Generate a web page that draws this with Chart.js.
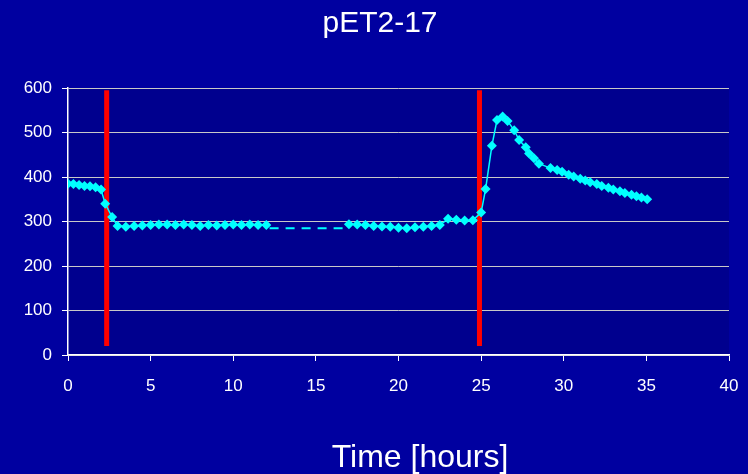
<!DOCTYPE html>
<html>
<head>
<meta charset="utf-8">
<script src="https://cdn.jsdelivr.net/npm/chart.js@4"></script>
<style>
html,body{margin:0;padding:0;background:#0000A0;}
#wrap{width:748px;height:474px;}
</style>
</head>
<body>
<div id="wrap"><canvas id="c" width="748" height="474"></canvas></div>
<script>
const chartTitle = 'pET2-17';
const xTitle = 'Time [hours]';
// before the gap
const time1 = [0,0.33,0.67,1,1.33,1.67,2.0,2.25,2.67,3.0,3.5,4,4.5,5,5.5,6,6.5,7,7.5,8,8.5,9,9.5,10,10.5,11,11.5,12];
const value1 = [385,384,382,380,379,377,372,340,310,290,288,290,291,292,293,293,292,293,292,290,292,291,292,293,292,293,292,292];
// after the gap
const time2 = [17,17.5,18,18.5,19,19.5,20,20.5,21,21.5,22,22.5,23,23.5,24,24.5,25.0,25.27,25.65,25.96,26.3,26.6,27.0,27.3,27.7,27.9,28.2,28.5,29.2,29.6,29.9,30.3,30.6,31.0,31.3,31.6,32.0,32.3,32.7,33.0,33.4,33.7,34.1,34.4,34.7,35.05];
const value2 = [294,293,292,290,289,288,286,285,287,288,290,292,306,304,302,303,320,373,470,528,536,526,505,483,467,453,442,430,420,416,412,405,401,396,392,388,384,380,376,372,368,364,360,357,354,350];
// dashed bridge over the gap
const gapTime = [12.2,16.8];
const gapValue = [285,285];
// red marker lines
const marker1Time = [2.34,2.34];
const marker2Time = [24.9,24.9];
const markerValue = [20,595];

const toPts = (xs, ys) => xs.map((x,i)=>({x:x,y:ys[i]}));
const mainPts = toPts(time1, value1).concat([{x:14.5,y:null}], toPts(time2, value2));

const font = "'Liberation Sans', Arial, sans-serif";

const bgPlugin = {
  id:'bg',
  beforeDraw(chart){
    const {ctx, chartArea:a} = chart;
    ctx.save();
    ctx.fillStyle = '#0000A0';
    ctx.fillRect(0,0,chart.width,chart.height);
    ctx.fillStyle = '#00008E';
    ctx.fillRect(a.left,a.top,a.right-a.left,a.bottom-a.top);
    ctx.restore();
  },
  afterDraw(chart){
    const ctx = chart.ctx;
    ctx.save();
    ctx.fillStyle = '#FFFFFF';
    ctx.font = '32px ' + font;
    ctx.textAlign = 'center';
    ctx.textBaseline = 'middle';
    ctx.fillText(xTitle, 420, 458);
    ctx.restore();
  }
};

new Chart(document.getElementById('c'), {
  type:'line',
  data:{
    datasets:[
      {data:mainPts, borderColor:'#00FFFF', backgroundColor:'#00FFFF', borderWidth:1.5,
       pointStyle:'rectRot', pointRadius:5, pointBorderWidth:0, spanGaps:false, order:0, tension:0},
      {data:toPts(gapTime,gapValue), borderColor:'#00FFFF', borderWidth:2, borderDash:[9,7], pointRadius:0, order:1},
      {data:toPts(marker1Time,markerValue), borderColor:'#FF0000', borderWidth:5, pointRadius:0, order:3, borderCapStyle:'butt'},
      {data:toPts(marker2Time,markerValue), borderColor:'#FF0000', borderWidth:5, pointRadius:0, order:3, borderCapStyle:'butt'}
    ]
  },
  options:{
    responsive:false, animation:false, devicePixelRatio:1,
    layout:{padding:{left:12,right:0,top:0,bottom:0}},
    plugins:{
      legend:{display:false}, tooltip:{enabled:false},
      title:{display:true, text:chartTitle, color:'#FFFFFF',
        font:{family:font, size:30, weight:'normal', lineHeight:1.2}, padding:{top:6,bottom:46}}
    },
    scales:{
      x:{type:'linear', min:0, max:40,
        ticks:{stepSize:5, color:'#FFFFFF', font:{family:font,size:17}, padding:15, maxRotation:0},
        grid:{drawOnChartArea:false, drawTicks:true, tickLength:6, color:'#FFFFFF'},
        border:{color:'#FFFFFF', width:1.5},
        afterFit(s){ s.height = 119; s.paddingRight = 19; }
      },
      y:{min:0, max:600,
        ticks:{stepSize:100, color:'#FFFFFF', font:{family:font,size:17}, padding:10},
        grid:{color:'#C8C8C8', lineWidth:1, tickLength:6, tickColor:'#FFFFFF'},
        border:{color:'#FFFFFF', width:1.5},
        afterFit(s){ s.width = 56; }
      }
    }
  },
  plugins:[bgPlugin]
});
</script>
</body>
</html>
